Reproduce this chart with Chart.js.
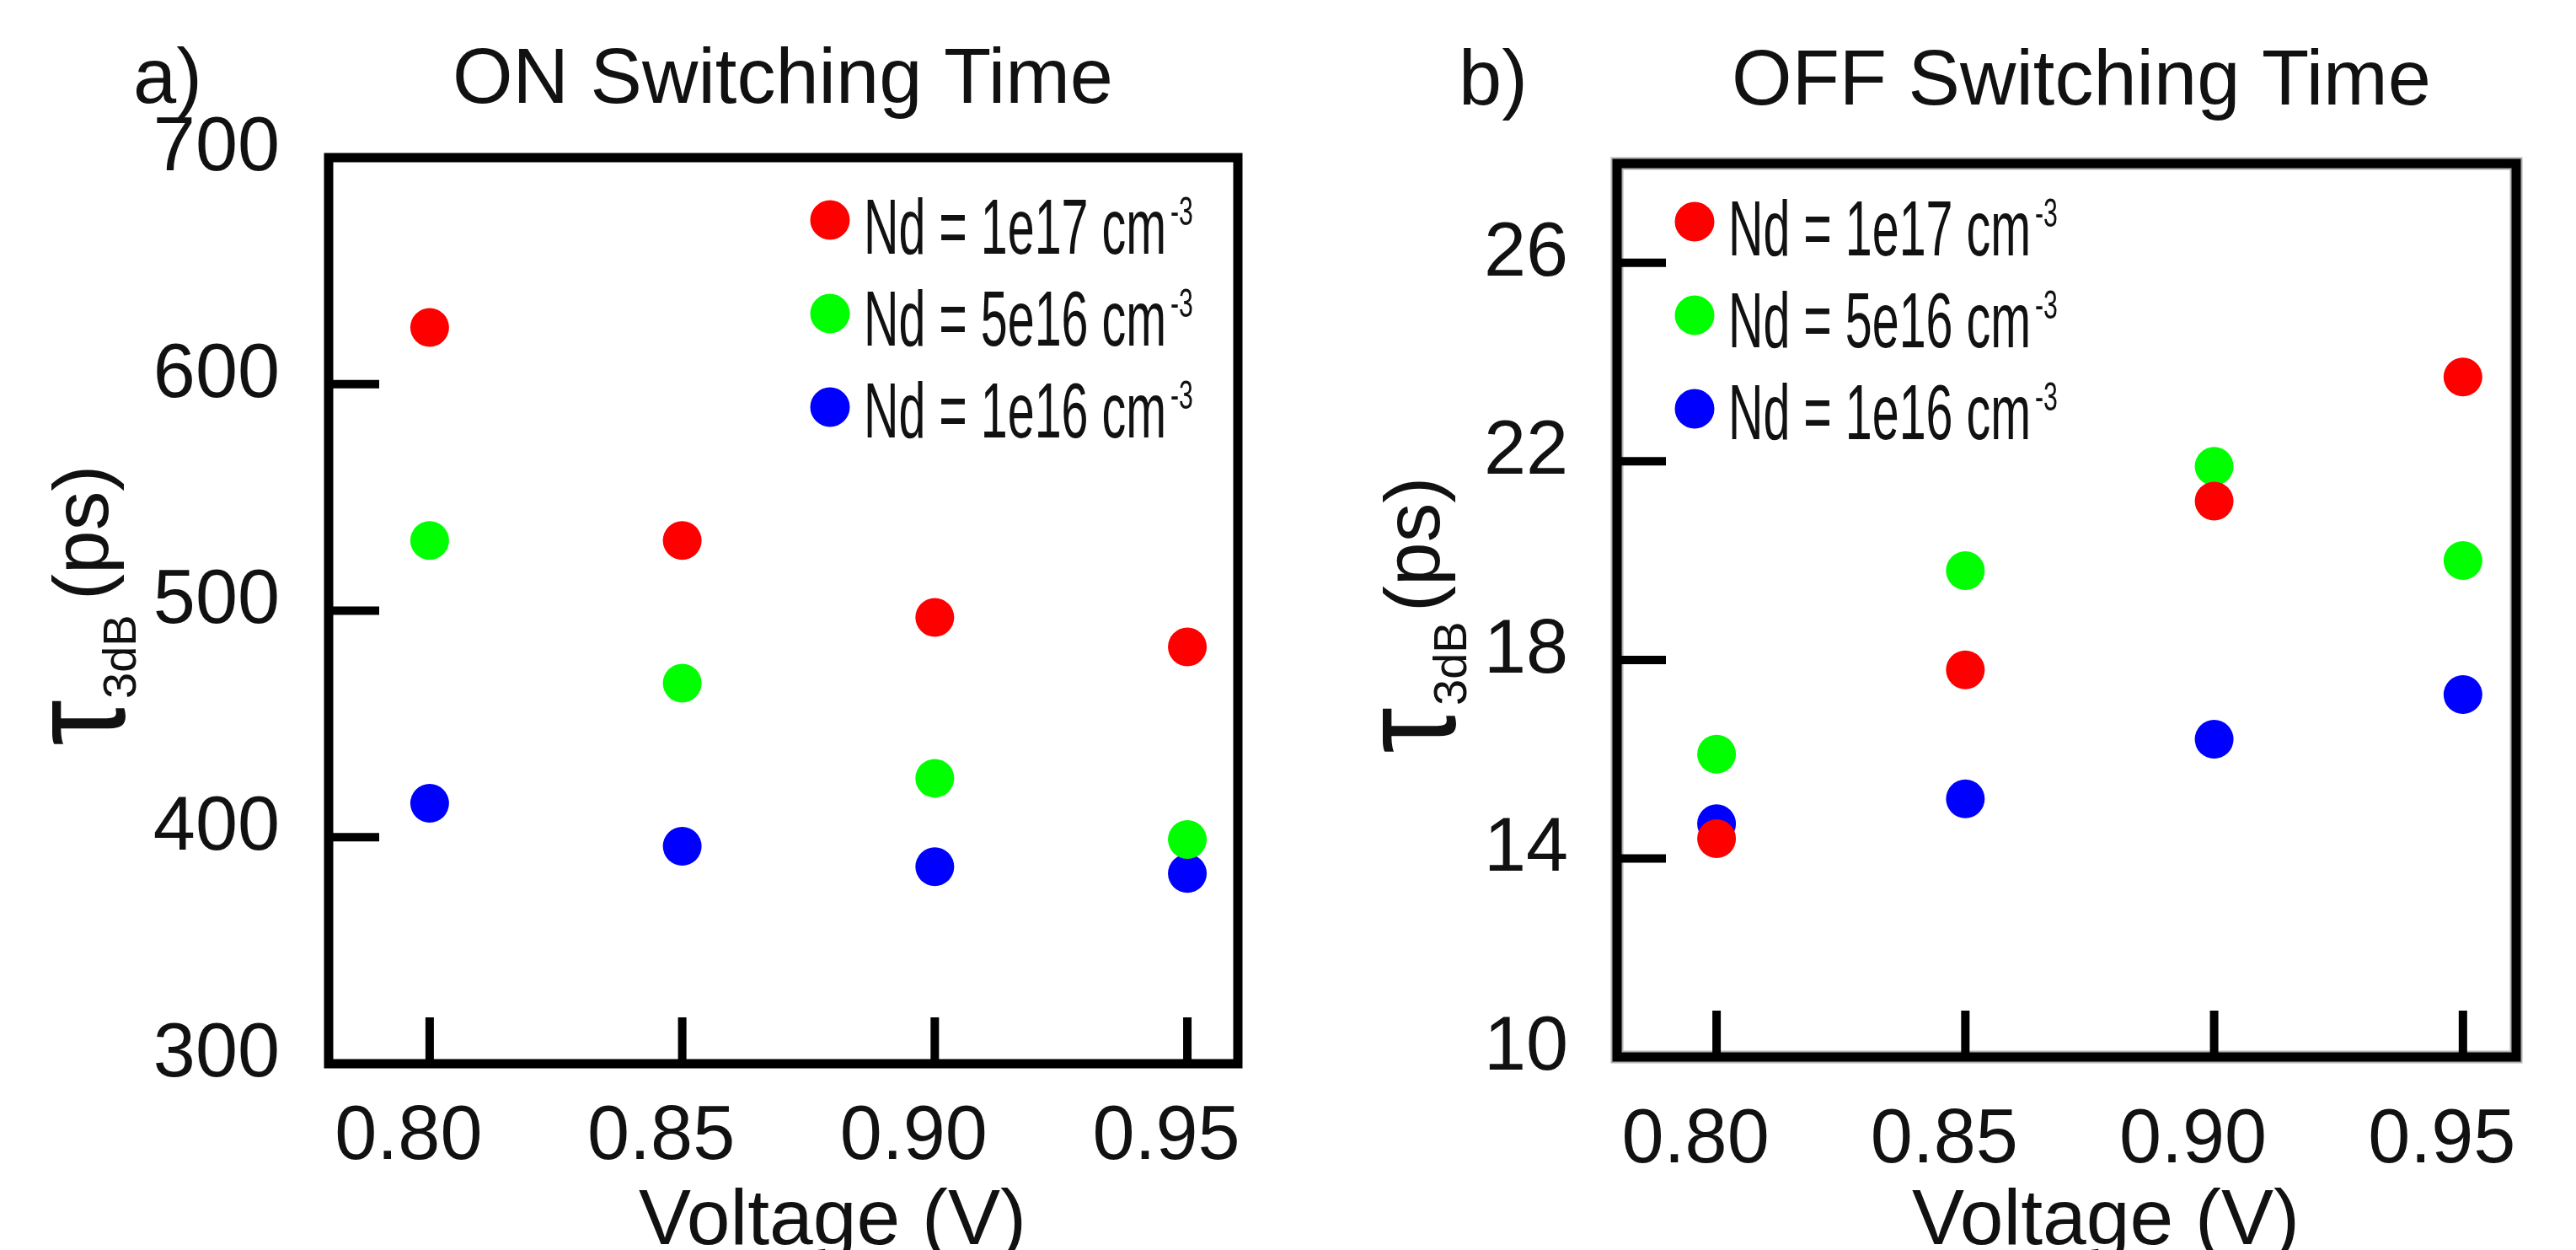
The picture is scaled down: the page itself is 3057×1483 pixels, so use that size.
<!DOCTYPE html>
<html>
<head>
<meta charset="utf-8">
<script src="https://cdn.jsdelivr.net/npm/chart.js@4.4.1/dist/chart.umd.min.js"></script>
<style>
  html, body { margin: 0; padding: 0; background: #fff; }
  canvas { position: absolute; top: 0; }
  #onChart { left: 0; }
  #offChart { left: 1530px; }
</style>
</head>
<body>
<canvas id="onChart" width="1530" height="1483"></canvas>
<canvas id="offChart" width="1527" height="1483"></canvas>
<script>
// voltages (V) and doping levels
const voltages = [0.80, 0.85, 0.90, 0.95];
const seriesNames = ['Nd = 1e17 cm', 'Nd = 5e16 cm', 'Nd = 1e16 cm'];
const seriesExponent = '-3';
const seriesColors = ['#ff0000', '#00ff00', '#0000ff'];

// a) ON switching time, tau_3dB in ps
const onTime1e17 = [625, 531, 497, 484];
const onTime5e16 = [531, 468, 426, 399];
const onTime1e16 = [415, 396, 387, 384];

// b) OFF switching time, tau_3dB in ps
const offTime1e17 = [14.4, 17.8, 21.2, 23.7];
const offTime5e16 = [16.1, 19.8, 21.9, 20.0];
const offTime1e16 = [14.7, 15.2, 16.4, 17.3];

const xTicks = [0.80, 0.85, 0.90, 0.95];
const onYTicks = [300, 400, 500, 600, 700];
const offYTicks = [10, 14, 18, 22, 26];

const FONT = '"Liberation Sans", Arial, sans-serif';

function toPoints(values) {
    return values.map((v, i) => ({x: voltages[i], y: v}));
}

function makeDatasets(seriesList) {
    return seriesList.map((values, i) => ({
        label: seriesNames[i] + '⁻³',
        data: toPoints(values),
        backgroundColor: seriesColors[i],
        borderWidth: 0,
        pointRadius: 23,
        pointHoverRadius: 23,
        showLine: false
    }));
}

// frame, inward ticks, titles and legend drawn around the chart area
const panelDecor = {
    id: 'panelDecor',
    afterDraw(chart, args, o) {
        const {ctx, chartArea: a, scales: {x, y}} = chart;
        ctx.save();

        if (o.halo) {
            ctx.strokeStyle = '#b0b0b0';
            ctx.lineWidth = 15;
            ctx.strokeRect(a.left, a.top, a.right - a.left, a.bottom - a.top);
        }
        ctx.strokeStyle = '#000';
        ctx.lineWidth = 11;
        ctx.strokeRect(a.left, a.top, a.right - a.left, a.bottom - a.top);

        ctx.lineWidth = 10;
        ctx.beginPath();
        x.ticks.forEach(t => {
            const px = x.getPixelForValue(t.value);
            ctx.moveTo(px, a.bottom);
            ctx.lineTo(px, a.bottom - o.xTickLen);
        });
        y.ticks.forEach(t => {
            const py = y.getPixelForValue(t.value);
            ctx.moveTo(a.left, py);
            ctx.lineTo(a.left + o.yTickLen, py);
        });
        ctx.stroke();

        ctx.fillStyle = '#111';
        ctx.textBaseline = 'alphabetic';
        ctx.font = '92px ' + FONT;
        ctx.textAlign = 'left';
        ctx.fillText(o.letter, o.letterX, o.titleY);
        ctx.textAlign = 'center';
        ctx.fillText(o.title, o.titleX, o.titleY);

        ctx.font = '93px ' + FONT;
        ctx.fillText('Voltage (V)', o.xTitleX, o.xTitleY);

        // y title: tau with subscript 3dB, then (ps), read bottom to top
        const yt = o.yTitle;
        ctx.textAlign = 'left';
        ctx.save();
        ctx.translate(yt.tauBase, yt.tauStart);
        ctx.rotate(-Math.PI / 2);
        ctx.font = '150px ' + FONT;
        const m = ctx.measureText('τ');
        const inkW = m.actualBoundingBoxLeft + m.actualBoundingBoxRight;
        const inkH = m.actualBoundingBoxAscent + m.actualBoundingBoxDescent;
        ctx.scale(52 / inkW, 87 / inkH);
        ctx.fillText('τ', m.actualBoundingBoxLeft, -m.actualBoundingBoxDescent);
        ctx.restore();

        ctx.save();
        ctx.translate(yt.subBase, yt.subStart);
        ctx.rotate(-Math.PI / 2);
        ctx.font = '56px ' + FONT;
        ctx.fillText('3dB', 0, 0);
        ctx.restore();

        ctx.save();
        ctx.translate(yt.parenBase, yt.parenStart);
        ctx.rotate(-Math.PI / 2);
        ctx.font = '93px ' + FONT;
        ctx.fillText('(ps)', 0, 0);
        ctx.restore();

        // legend inside the plot, condensed text
        seriesNames.forEach((name, i) => {
            const base = a.top + o.legendTop + i * 109;
            const mx = a.left + o.legendLeft;
            ctx.fillStyle = seriesColors[i];
            ctx.beginPath();
            ctx.arc(mx, base - 40 + i * 2, 23.5, 0, Math.PI * 2);
            ctx.fill();

            ctx.fillStyle = '#111';
            ctx.save();
            ctx.translate(mx + 40, base);
            ctx.font = '93px ' + FONT;
            const w = ctx.measureText(name).width;
            const sx = 359 / w;
            ctx.scale(sx, 1);
            ctx.fillText(name, 0, 0);
            ctx.font = '49px ' + FONT;
            ctx.fillText(seriesExponent, w + 5 / sx, -34);
            ctx.restore();
        });

        ctx.restore();
    }
};

function renderPanel(elementId, seriesList, yMin, yMax, yTicks, xMax, layout, decor) {
    const config = {
        type: 'scatter',
        data: {datasets: makeDatasets(seriesList)},
        options: {
            responsive: false,
            animation: false,
            devicePixelRatio: 1,
            layout: {padding: layout.padding},
            scales: {
                x: {
                    type: 'linear',
                    min: 0.78,
                    max: xMax,
                    afterBuildTicks: (scale) => { scale.ticks = xTicks.map(v => ({value: v})); },
                    afterFit: (scale) => { scale.height = layout.xHeight; },
                    grid: {display: false},
                    border: {display: false},
                    ticks: {
                        padding: layout.xPad,
                        labelOffset: -25,
                        maxRotation: 0,
                        color: '#111',
                        font: {family: FONT, size: 90},
                        callback: (v) => Number(v).toFixed(2)
                    }
                },
                y: {
                    type: 'linear',
                    min: yMin,
                    max: yMax,
                    afterBuildTicks: (scale) => { scale.ticks = yTicks.map(v => ({value: v})); },
                    afterFit: (scale) => { scale.width = layout.yWidth; },
                    grid: {display: false},
                    border: {display: false},
                    ticks: {
                        padding: 50,
                        labelOffset: -10,
                        color: '#111',
                        font: {family: FONT, size: 90}
                    }
                }
            },
            plugins: {
                legend: {display: false},
                tooltip: {enabled: false},
                panelDecor: decor
            }
        },
        plugins: [panelDecor]
    };
    return new Chart(document.getElementById(elementId), config);
}

renderPanel('onChart', [onTime1e17, onTime5e16, onTime1e16], 300, 700, onYTicks, 0.96,
    {padding: {left: 0, right: 61, top: 187, bottom: 0}, xHeight: 221, yWidth: 390, xPad: 26},
    {
        letter: 'a)', letterX: 158, title: 'ON Switching Time', titleX: 929, titleY: 122,
        xTitleX: 988, xTitleY: 1476, xTickLen: 55, yTickLen: 60,
        legendLeft: 595, legendTop: 114, halo: false,
        yTitle: {tauBase: 148, tauStart: 883, subBase: 161, subStart: 829, parenBase: 128, parenStart: 712}
    });

renderPanel('offChart', [offTime1e17, offTime5e16, offTime1e16], 10, 28, offYTicks, 0.9607,
    {padding: {left: 0, right: 71, top: 194, bottom: 0}, xHeight: 229, yWidth: 389, xPad: 38},
    {
        letter: 'b)', letterX: 201, title: 'OFF Switching Time', titleX: 940, titleY: 124,
        xTitleX: 969, xTitleY: 1476, xTickLen: 55, yTickLen: 58,
        legendLeft: 92, legendTop: 109, halo: true,
        yTitle: {tauBase: 197, tauStart: 892, subBase: 210, subStart: 837, parenBase: 178, parenStart: 726}
    });
</script>
</body>
</html>
